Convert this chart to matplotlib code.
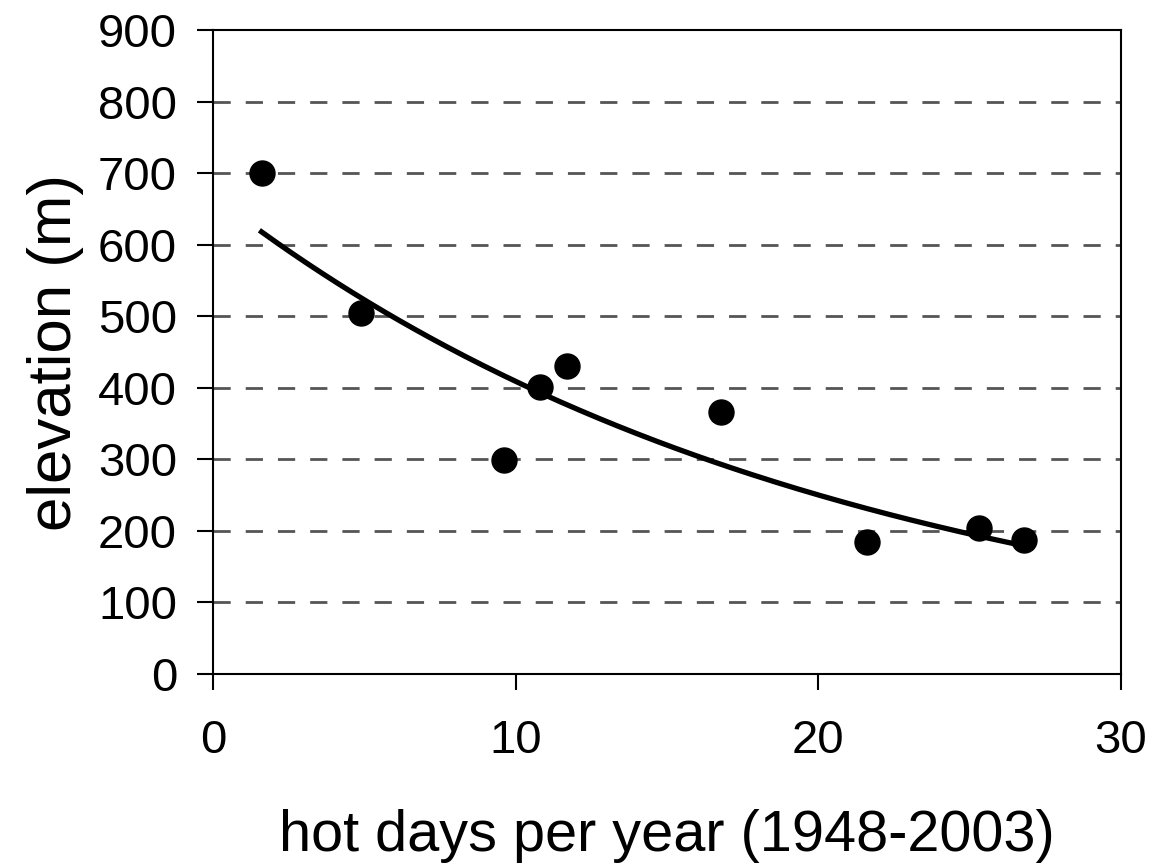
import numpy as np
import matplotlib.pyplot as plt

plt.rcParams['font.family'] = ['Liberation Sans', 'DejaVu Sans']

hot_days = [1.6, 4.9, 9.6, 10.8, 11.7, 16.8, 21.6, 25.3, 26.8]
elevation = [700, 505, 299, 401, 430, 366, 184, 204, 187]

x_ticks = [0, 10, 20, 30]
y_ticks = [0, 100, 200, 300, 400, 500, 600, 700, 800, 900]

# exponential trendline fitted to the points
x = np.array(hot_days)
y = np.array(elevation)
b, ln_a = np.polyfit(x, np.log(y), 1)
x_fit = np.linspace(x.min(), x.max(), 200)
y_fit = np.exp(ln_a) * np.exp(b * x_fit)

fig = plt.figure(figsize=(11.52, 8.65), dpi=100)
ax = fig.add_axes([0.185, 0.221, 0.788, 0.744])

for v in y_ticks[1:-1]:
    ax.axhline(v, color='#555555', lw=2.0, ls=(0, (6.2, 5.4)), zorder=1)

ax.plot(x_fit, y_fit, color='black', lw=3.8, zorder=3)
ax.plot(hot_days, elevation, 'o', color='black', ms=18, zorder=4)

ax.set_xlim(0, 30)
ax.set_ylim(0, 900)
ax.set_xticks(x_ticks)
ax.set_yticks(y_ticks)
ax.tick_params(direction='out', length=11.5, width=1.5, labelsize=34)
ax.tick_params(axis='y', pad=14.5)
ax.tick_params(axis='x', pad=21)
for s in ax.spines.values():
    s.set_linewidth(1.5)

ax.set_xlabel('hot days per year (1948-2003)', fontsize=41.5, labelpad=33)
ax.set_ylabel('elevation (m)', fontsize=44.5, labelpad=10)

fig.savefig('out.png', dpi=100)
